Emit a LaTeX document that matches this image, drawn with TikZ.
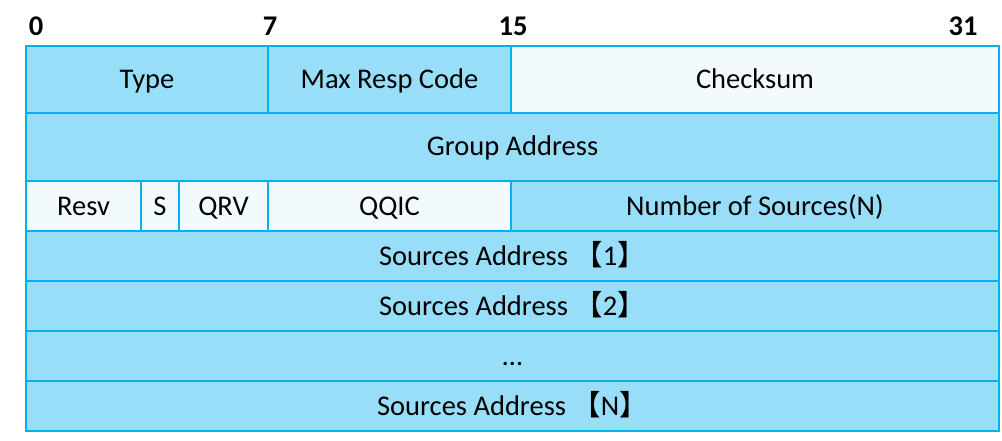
\documentclass[tikz,border=0pt]{standalone}
\usepackage{fontspec}
\setmainfont{Carlito}
\newfontfamily\cjkfont{Noto Sans CJK SC}
\definecolor{cellborder}{HTML}{00B0F0}
\definecolor{cellblue}{HTML}{99DEF8}
\definecolor{celllight}{HTML}{F2FAFE}
\newcommand{\lb}{{\cjkfont 【}}
\newcommand{\rb}{{\cjkfont 】}}
\begin{document}
\begin{tikzpicture}[x=1pt,y=-1pt,
  cell/.style={draw=cellborder, line width=2pt, inner sep=0pt, outer sep=0pt,
    font=\fontsize{28.5}{34}\selectfont, text=black,
    text height=18pt, text depth=0pt},
  blue/.style={cell, fill=cellblue},
  light/.style={cell, fill=celllight},
  bitnum/.style={font=\fontsize{28.5}{34}\selectfont\bfseries, anchor=base, inner sep=0pt}]
\useasboundingbox (0,0) rectangle (1002,441);
% field cells: (left+right)/2, (top+bottom)/2, widths and heights in px
% row 1
\node[blue, minimum width=242, minimum height=67] (type) at (147,79.5) {Type};
\node[blue, minimum width=243, minimum height=67] (mrc) at (389.5,79.5) {Max Resp Code};
\node[light, minimum width=488, minimum height=67] (csum) at (755,79.5) {Checksum};
% row 2
\node[blue, minimum width=973, minimum height=68] (grp) at (512.5,147) {Group Address};
% row 3
\node[light, minimum width=115, minimum height=50] (resv) at (83.5,206) {Resv};
\node[light, minimum width=38, minimum height=50] (sflag) at (160,206) {S};
\node[light, minimum width=89, minimum height=50] (qrv) at (223.5,206) {QRV};
\node[light, minimum width=243, minimum height=50] (qqic) at (389.5,206) {QQIC};
\node[blue, minimum width=488, minimum height=50] (nsrc) at (755,206) {Number of Sources(N)};
% source address rows
\node[blue, minimum width=973, minimum height=50] (src1) at (512.5,256) {Sources Address \lb1\rb};
\node[blue, minimum width=973, minimum height=50] (src2) at (512.5,306) {Sources Address \lb2\rb};
\node[blue, minimum width=973, minimum height=50] (srcdots) at (512.5,356) {…};
\node[blue, minimum width=973, minimum height=50] (srcn) at (512.5,406) {Sources Address \lb N\rb};
% bit positions
\node[bitnum] (b0) at (36,36) {0};
\node[bitnum] (b7) at (270,36) {7};
\node[bitnum] (b15) at (513,36) {15};
\node[bitnum] (b31) at (963,36) {31};
\end{tikzpicture}
\end{document}
